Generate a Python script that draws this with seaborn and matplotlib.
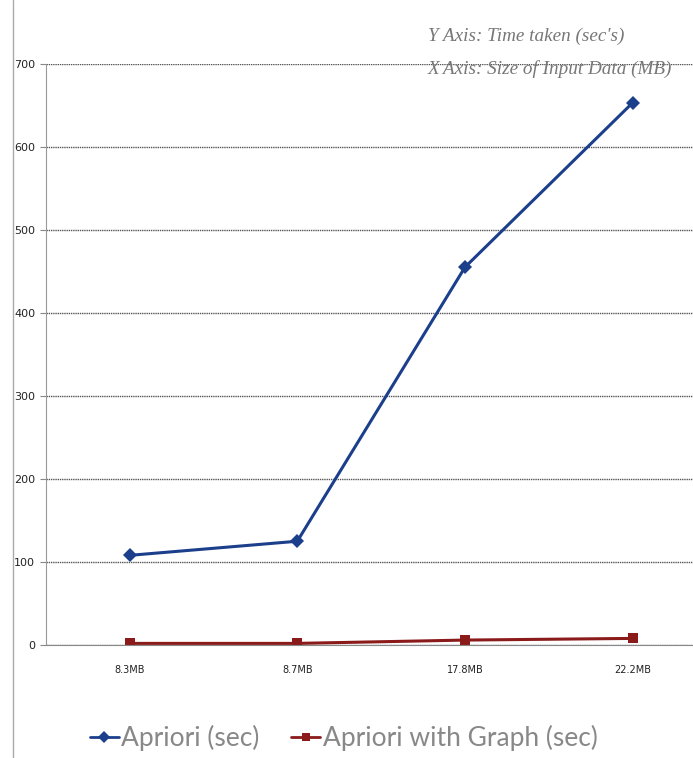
import matplotlib.pyplot as plt
import pandas as pd
import seaborn as sns
from matplotlib.lines import Line2D

SIZES = ["8.3MB", "8.7MB", "17.8MB", "22.2MB"]
APRIORI = [108, 125, 455, 653]
APRIORI_GRAPH = [2, 2, 6, 8]
SERIES = ["Apriori (sec)", "Apriori with Graph (sec)"]
Y_TICKS = [0, 100, 200, 300, 400, 500, 600, 700]

PALETTE = {SERIES[0]: "#1c3f8c", SERIES[1]: "#8b1a1a"}
MARKERS = {SERIES[0]: "D", SERIES[1]: "s"}


def build_dataset():
    frames = []
    for name, vals in zip(SERIES, [APRIORI, APRIORI_GRAPH]):
        frames.append(pd.DataFrame({"Size": SIZES, "Time": vals, "Series": name}))
    df = pd.concat(frames, ignore_index=True)
    df["pos"] = df["Size"].map({s: i for i, s in enumerate(SIZES)})
    return df


def plot(df):
    sns.set_style("white")
    fig = plt.figure(figsize=(6.93, 7.58), dpi=100)
    # category axis runs a bit past the right edge, as in the cropped original
    ax = fig.add_axes([0.066, 0.149, 0.968, 0.767])

    sns.lineplot(
        data=df, x="pos", y="Time", hue="Series", style="Series",
        palette=PALETTE, markers=MARKERS, dashes=False,
        linewidth=2.2, markersize=7, markeredgewidth=0, ax=ax, legend=False,
    )

    ax.set_xlim(-0.5, len(SIZES) - 0.5)
    ax.set_ylim(0, 700)
    ax.set_yticks(Y_TICKS)
    ax.set_yticklabels([str(t) for t in Y_TICKS], fontsize=8, color="#222222")
    ax.set_xticks(range(len(SIZES)))
    ax.set_xticklabels(SIZES, fontsize=7, color="#222222")
    ax.set_xticks([i + 0.5 for i in range(len(SIZES) - 1)], minor=True)
    ax.tick_params(axis="x", which="major", length=0, pad=14)
    ax.tick_params(axis="x", which="minor", length=4, color="#888888", direction="out")
    ax.tick_params(axis="y", length=4, color="#888888", direction="out", left=True)
    ax.set_xlabel("")
    ax.set_ylabel("")

    ax.yaxis.grid(True, color="#555555", linewidth=1.0, linestyle=(0, (1, 0.6)))
    ax.set_axisbelow(True)
    for side in ["top", "right"]:
        ax.spines[side].set_visible(False)
    ax.spines["left"].set_color("#999999")
    ax.spines["bottom"].set_color("#888888")

    # left border of the chart frame
    fig.add_artist(Line2D([0.019, 0.019], [0.0, 1.0], color="#aaaaaa", linewidth=1.0))

    fig.text(0.617, 0.946, "Y Axis: Time taken (sec's)", family="Liberation Serif",
             style="italic", fontsize=13.8, color="#777777")
    fig.text(0.617, 0.903, "X Axis: Size of Input Data (MB)", family="Liberation Serif",
             style="italic", fontsize=13.8, color="#777777")

    handles = [
        Line2D([], [], color=PALETTE[s], marker=MARKERS[s], markersize=6,
               linewidth=2, markeredgewidth=0)
        for s in SERIES
    ]
    leg = fig.legend(handles, SERIES, loc="lower left", bbox_to_anchor=(0.095, -0.022),
                     ncol=2, frameon=False, prop={"family": "Lato", "size": 19},
                     handlelength=1.1, handletextpad=0.1, columnspacing=1.2)
    for t in leg.get_texts():
        t.set_color("#888888")

    fig.savefig("out.png", dpi=100)


plot(build_dataset())
